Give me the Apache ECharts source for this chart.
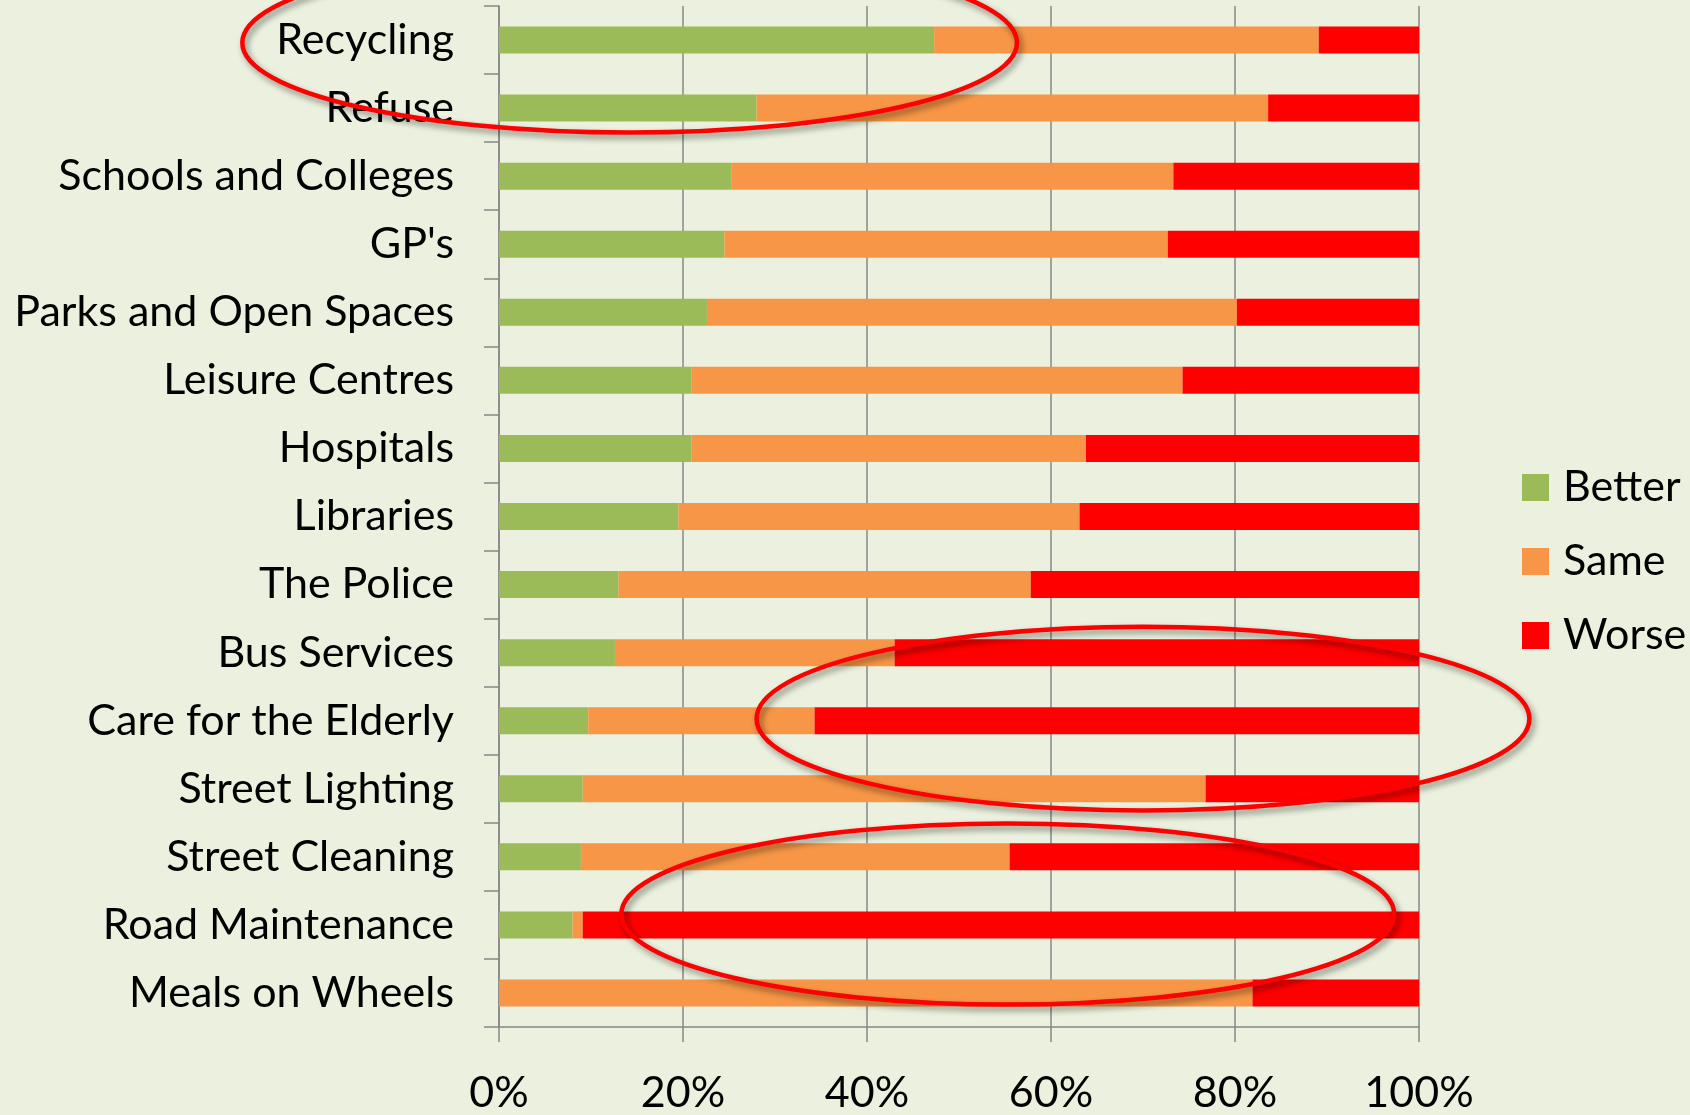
<!DOCTYPE html>
<html>
<head>
<meta charset="utf-8">
<script src="https://cdn.jsdelivr.net/npm/echarts@6/dist/echarts.min.js"></script>
<style>
  html, body { margin: 0; padding: 0; background: #EBF1DE; }
  #chart { width: 1690px; height: 1115px; }
</style>
</head>
<body>
<div id="chart"></div>
<script>
// services, top to bottom
const categories = [
  'Recycling', 'Refuse', 'Schools and Colleges', "GP's", 'Parks and Open Spaces',
  'Leisure Centres', 'Hospitals', 'Libraries', 'The Police', 'Bus Services',
  'Care for the Elderly', 'Street Lighting', 'Street Cleaning', 'Road Maintenance',
  'Meals on Wheels'
];
const better = [47.3, 28.0, 25.3, 24.5, 22.6, 20.9, 20.9, 19.5, 13.0, 12.6, 9.7, 9.1, 8.9, 8.0, 0];
const same   = [41.8, 55.6, 48.0, 48.2, 57.6, 53.4, 42.9, 43.6, 44.8, 30.4, 24.6, 67.7, 46.6, 1.1, 81.9];
const worse  = [10.9, 16.4, 26.7, 27.3, 19.8, 25.7, 36.2, 36.9, 42.2, 57.0, 65.7, 23.2, 44.5, 90.9, 18.1];
const xTicks = [0, 20, 40, 60, 80, 100];

// red hand-drawn rings: centre in (percent, category index), radii in (percent, categories)
const rings = [
  { value: 14.2, cat: 0.04, rx: 42.1, ry: 1.32 },
  { value: 70.0, cat: 9.97, rx: 42.0, ry: 1.35 },
  { value: 55.3, cat: 12.84, rx: 42.0, ry: 1.33 }
];

const font = 'Lato';
const fontSize = 43;
const grey = '#878787';

const chart = echarts.init(document.getElementById('chart'));

const barSeries = (name, data, color) => ({
  name: name,
  type: 'bar',
  stack: 'all',
  barWidth: 27,
  data: data,
  itemStyle: { color: color },
  emphasis: { disabled: true }
});

chart.setOption({
  backgroundColor: '#EBF1DE',
  animation: false,
  grid: { left: 499, right: 271, top: 6, bottom: 82 },
  legend: {
    orient: 'vertical',
    left: 1522,
    top: 466,
    padding: 0,
    icon: 'rect',
    itemWidth: 27,
    itemHeight: 27,
    itemGap: 31,
    data: ['Better', 'Same', 'Worse'],
    textStyle: { fontFamily: font, fontSize: fontSize, color: '#000', padding: [0, 0, 0, 9] }
  },
  xAxis: {
    type: 'value',
    min: xTicks[0],
    max: xTicks[xTicks.length - 1],
    interval: 20,
    axisLine: { show: true, lineStyle: { color: grey, width: 1.5 } },
    axisTick: { show: true, length: 15, lineStyle: { color: grey, width: 1.5 } },
    splitLine: { show: true, lineStyle: { color: grey, width: 1.5 } },
    axisLabel: { formatter: '{value}%', fontFamily: font, fontSize: fontSize, color: '#000', margin: 45 }
  },
  yAxis: {
    type: 'category',
    inverse: true,
    data: categories,
    axisLine: { show: true, lineStyle: { color: grey, width: 1.5 } },
    axisTick: { show: true, length: 15, lineStyle: { color: grey, width: 1.5 } },
    axisLabel: { fontFamily: font, fontSize: fontSize, color: '#000', margin: 45 }
  },
  series: [
    barSeries('Better', better, '#9BBB59'),
    barSeries('Same', same, '#F79646'),
    barSeries('Worse', worse, '#FF0000')
  ]
});

// place the rings through the axes
function toPixel(value, cat) {
  const i = Math.floor(cat);
  const p0 = chart.convertToPixel({ gridIndex: 0 }, [value, i]);
  const p1 = chart.convertToPixel({ gridIndex: 0 }, [value, i + 1]);
  return [p0[0], p0[1] + (cat - i) * (p1[1] - p0[1])];
}
const graphics = rings.map(r => {
  const c = toPixel(r.value, r.cat);
  const e = toPixel(r.value + r.rx, r.cat + r.ry);
  return {
    type: 'ellipse',
    z: 100,
    shape: { cx: c[0], cy: c[1], rx: e[0] - c[0], ry: e[1] - c[1] },
    style: {
      fill: 'none',
      stroke: '#FF0000',
      lineWidth: 4.5,
      shadowBlur: 6,
      shadowColor: 'rgba(0,0,0,0.45)',
      shadowOffsetX: 3,
      shadowOffsetY: 4
    }
  };
});
chart.setOption({ graphic: graphics });
</script>
</body>
</html>
